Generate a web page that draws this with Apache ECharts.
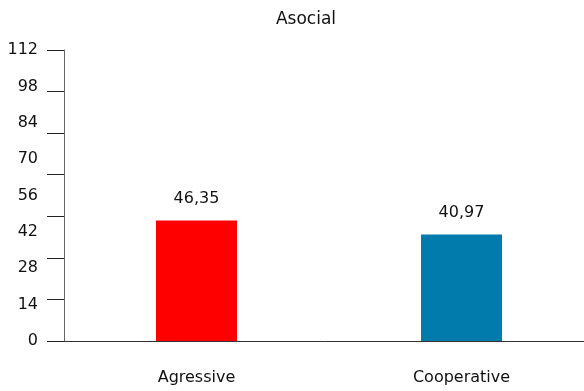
<!DOCTYPE html>
<html>
<head>
<meta charset="utf-8">
<script src="https://cdn.jsdelivr.net/npm/echarts@6/dist/echarts.min.js"></script>
<style>
  html, body { margin: 0; padding: 0; background: #fff; }
  #chart { width: 584px; height: 391px; }
</style>
</head>
<body>
<div id="chart"></div>
<script>
// Mean scores in the "Asocial" condition, by group
const categories = ['Agressive', 'Cooperative'];
const values = [46.35, 40.97];
const barColors = ['#ff0000', '#007bab'];
const yLabelTicks = [0, 14, 28, 42, 56, 70, 84, 98, 112];
// the tick marks on the value axis are laid out on their own, coarser step
const yMarkTicks = [0, 16, 32, 48, 64, 80, 96, 112];

const FONT = 'DejaVu Sans';
const yMin = yLabelTicks[0];
const yMax = yLabelTicks[yLabelTicks.length - 1];
const chart = echarts.init(document.getElementById('chart'), null, { renderer: 'canvas' });

chart.setOption({
  animation: false,
  backgroundColor: '#ffffff',
  title: {
    text: 'Asocial',
    left: 301,
    top: 6,
    textAlign: 'center',
    textStyle: { fontFamily: FONT, fontSize: 17, fontWeight: 'normal', color: '#111' }
  },
  // the plot area runs a little past the right edge of the canvas
  grid: { left: 64, width: 530, top: 50, bottom: 50, containLabel: false, outerBoundsMode: 'none' },
  xAxis: {
    type: 'category',
    data: categories,
    axisLine: { lineStyle: { color: '#333', width: 1 } },
    axisTick: { show: false },
    axisLabel: { fontFamily: FONT, fontSize: 16, color: '#111', margin: 29 }
  },
  yAxis: [{
    type: 'value',
    min: yMin,
    max: yMax,
    interval: yLabelTicks[1] - yLabelTicks[0],
    splitLine: { show: false },
    axisLine: { show: true, lineStyle: { color: '#666', width: 1 } },
    axisTick: { show: false },
    axisLabel: { fontFamily: FONT, fontSize: 16, color: '#111', margin: 26 }
  }, {
    type: 'value',
    position: 'left',
    min: yMin,
    max: yMax,
    interval: yMarkTicks[1] - yMarkTicks[0],
    splitLine: { show: false },
    axisLine: { show: false },
    axisTick: { show: true, length: 17, lineStyle: { color: '#222', width: 1 } },
    axisLabel: { show: false }
  }],
  series: [{
    type: 'bar',
    yAxisIndex: 0,
    barWidth: 81,
    data: values.map((v, i) => ({ value: v, itemStyle: { color: barColors[i] } })),
    label: {
      show: true,
      position: 'top',
      distance: 14,
      fontFamily: FONT,
      fontSize: 16,
      color: '#111',
      formatter: p => p.value.toFixed(2).replace('.', ',')
    }
  }]
});
</script>
</body>
</html>
